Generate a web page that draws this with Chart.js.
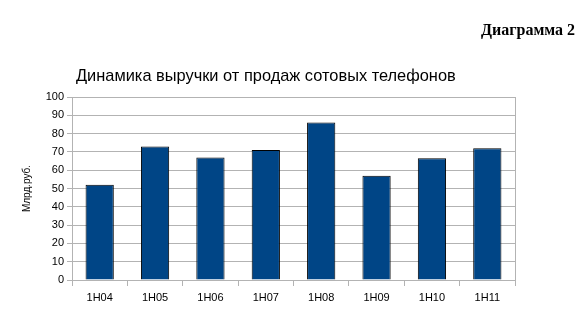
<!DOCTYPE html>
<html>
<head>
<meta charset="utf-8">
<script src="https://cdn.jsdelivr.net/npm/chart.js@4/dist/chart.umd.min.js"></script>
<style>
  body { margin: 0; background: #fff; }
  #wrap { position: relative; width: 585px; height: 321px; }
  #chart { position: absolute; left: 0; top: 0; }
  #label {
    position: absolute; left: 481px; top: 21px;
    font: bold 16px "Liberation Serif", "DejaVu Serif", serif; color: #000;
  }
  #title {
    position: absolute; left: 76px; top: 66px; white-space: nowrap;
    font: 16.4px "Liberation Sans", Arial, sans-serif; color: #000;
  }
</style>
</head>
<body>
<div id="wrap">
  <canvas id="chart" width="585" height="321"></canvas>
  <div id="label">Диаграмма 2</div>
  <div id="title">Динамика выручки от продаж сотовых телефонов</div>
</div>
<script>
const categories = ['1H04', '1H05', '1H06', '1H07', '1H08', '1H09', '1H10', '1H11'];
const revenue = [52, 73, 67, 71, 86, 57, 66.5, 72];
const yTitle = 'Млрд.руб.';

const gridGray = '#b3b3b3';

// right border of the plot area
const rightBorder = {
    id: 'rightBorder',
    afterDraw(chart) {
        const { ctx, chartArea } = chart;
        ctx.save();
        ctx.strokeStyle = gridGray;
        ctx.lineWidth = 1;
        ctx.beginPath();
        ctx.moveTo(Math.round(chartArea.right) + 0.5, chartArea.top);
        ctx.lineTo(Math.round(chartArea.right) + 0.5, chartArea.bottom);
        ctx.stroke();
        ctx.restore();
    }
};

new Chart(document.getElementById('chart').getContext('2d'), {
    type: 'bar',
    data: {
        labels: categories,
        datasets: [{
            data: revenue,
            backgroundColor: '#004586',
            borderColor: '#000',
            borderWidth: 1,
            barPercentage: 0.51,
            categoryPercentage: 1
        }]
    },
    options: {
        responsive: false,
        animation: false,
        layout: { padding: { top: 97, right: 70, bottom: 0, left: 0 } },
        plugins: { legend: { display: false }, tooltip: { enabled: false } },
        scales: {
            x: {
                grid: { offset: true, drawOnChartArea: false, color: gridGray, tickLength: 6 },
                border: { color: gridGray },
                ticks: { color: '#000', font: { family: 'Liberation Sans', size: 11 }, padding: 5 },
                afterFit: s => { s.height = 41; }
            },
            y: {
                min: 0,
                max: 100,
                ticks: { stepSize: 10, color: '#000', font: { family: 'Liberation Sans', size: 11 }, padding: 3 },
                grid: { color: gridGray, tickLength: 5 },
                border: { color: gridGray },
                title: {
                    display: true,
                    text: yTitle,
                    color: '#000',
                    font: { family: 'Liberation Sans', size: 10 },
                    padding: { top: 21, bottom: 0 }
                },
                afterFit: s => { s.width = 72; }
            }
        }
    },
    plugins: [rightBorder]
});
</script>
</body>
</html>
